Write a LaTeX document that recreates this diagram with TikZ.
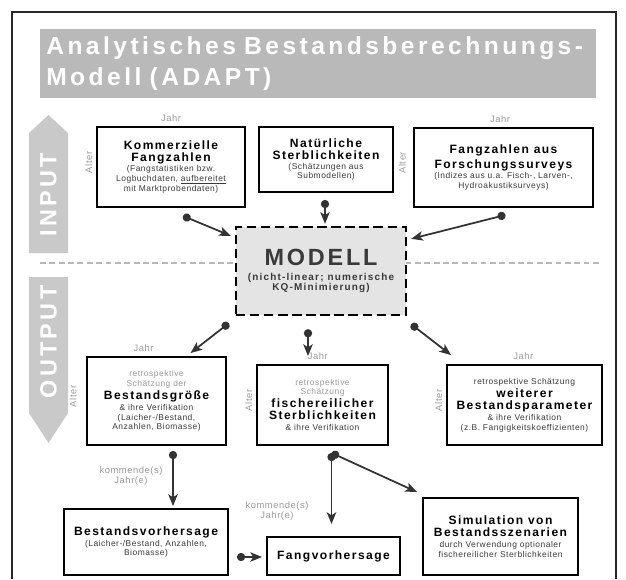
\documentclass[tikz,border=0pt]{standalone}
\usepackage{fontspec}
\setmainfont{Liberation Sans}
\newfontfamily\titlefont[LetterSpace=14]{Liberation Sans}
\newfontfamily\widefont[LetterSpace=12]{Liberation Sans}
\newfontfamily\smallfont[LetterSpace=6]{Liberation Sans}
\usetikzlibrary{positioning,arrows.meta}

\definecolor{titlegray}{HTML}{B9B9B9}
\definecolor{sidegray}{HTML}{C9C9C9}
\definecolor{modellgray}{HTML}{E4E4E4}
\definecolor{textgray}{HTML}{9A9A9A}
\definecolor{darktext}{HTML}{3A3A3A}

\newcommand\hd{\widefont\bfseries\fontsize{10.3}{12}\selectfont\color{black}}
\newcommand\sm{\smallfont\fontsize{7.2}{8.4}\selectfont\color{darktext}}
\newcommand\lt{\color{textgray}}

\begin{document}
\begin{tikzpicture}[x=0.03cm, y=-0.03cm,
    box/.style={draw=black, line width=1.6pt, fill=white, align=center, inner sep=1pt, font=\sm},
    conn/.style={draw=black!80, line width=1.5pt, {Circle[length=7pt]}-{Stealth[length=10pt, width=8pt, inset=2.5pt]}},
    axislabel/.style={text=textgray, font=\smallfont\fontsize{8}{9}\selectfont, inner sep=1pt},
    sidetext/.style={text=white, font=\titlefont\bfseries\fontsize{20}{20}\selectfont, rotate=90}
]
    % page and frame
    \useasboundingbox (0,0) rectangle (626,579);
    \draw[line width=1.2pt, black!85] (12,579) -- (12,12) -- (616,12) -- (616,579);

    % title
    \node[fill=titlegray, minimum width=16.68cm, minimum height=2.07cm, text width=16.3cm, align=left, text=white,
          font=\titlefont\bfseries\fontsize{21}{27}\selectfont] (title) at (318,63.5)
          {Analytisches Bestandsberechnungs-\\Modell (ADAPT)};

    % input / output arrows at the side
    \fill[sidegray] (29,253) -- (29,133) -- (48.5,115) -- (68,133) -- (68,253) -- cycle;
    \fill[sidegray] (29,277) -- (68,277) -- (68,413) -- (48.5,443) -- (29,413) -- cycle;
    \node[sidetext] (input) at (48.5,195) {INPUT};
    \node[sidetext] (output) at (48.5,342) {OUTPUT};

    % separator between input and output
    \draw[textgray!70, line width=1pt, dash pattern=on 5pt off 3pt] (40,263) -- (600,263);

    % input boxes
    \node[box, minimum width=4.44cm, minimum height=2.4cm] (kommerz) at (171,167)
        {\hd Kommerzielle\\[2pt] \hd Fangzahlen\\ (Fangstatistiken bzw.\\ Logbuchdaten, \underline{aufbereitet}\\ mit Marktprobendaten)};
    \node[box, minimum width=4.02cm, minimum height=1.95cm] (natur) at (326,159.5)
        {\hd Natürliche\\[2pt] \hd Sterblichkeiten\\ (Schätzungen aus\\ Submodellen)};
    \node[box, minimum width=5.37cm, minimum height=2.37cm] (forsch) at (503.5,167.5)
        {\hd Fangzahlen aus\\[2pt] \hd Forschungssurveys\\ (Indizes aus u.a. Fisch-, Larven-,\\ Hydroakustiksurveys)};

    % the model
    \node[box, fill=modellgray, dash pattern=on 8pt off 4pt, line width=2pt, minimum width=5.1cm, minimum height=2.64cm] (modell) at (321,271)
        {\widefont\bfseries\fontsize{20}{22}\selectfont MODELL\\[4pt]
         \widefont\bfseries\fontsize{8.5}{10}\selectfont (nicht-linear; numerische\\
         \widefont\bfseries\fontsize{8.5}{10}\selectfont KQ-Minimierung)};

    % output boxes
    \node[box, minimum width=4.17cm, minimum height=2.64cm] (groesse) at (156.5,401)
        {\lt retrospektive\\ \lt Schätzung der\\[1pt] \hd Bestandsgröße\\[1pt] \& ihre Verifikation\\ (Laicher-/Bestand,\\ Anzahlen, Biomasse)};
    \node[box, minimum width=3.93cm, minimum height=2.4cm] (fischerei) at (322.5,405)
        {\lt retrospektive\\ \lt Schätzung\\[1pt] \hd fischereilicher\\[2pt] \hd Sterblichkeiten\\[1pt] \& ihre Verifikation};
    \node[box, minimum width=4.65cm, minimum height=2.4cm] (weitere) at (524.5,405)
        {retrospektive Schätzung\\[1pt] \hd weiterer\\[2pt] \hd Bestandsparameter\\[1pt] \& ihre Verifikation\\ (z.B. Fangigkeitskoeffizienten)};
    \node[box, minimum width=4.92cm, minimum height=1.98cm] (bvorher) at (146,542)
        {\hd Bestandsvorhersage\\[1pt] (Laicher-/Bestand, Anzahlen,\\ Biomasse)};
    \node[box, minimum width=3.99cm, minimum height=1.14cm] (fvorher) at (333.5,556)
        {\hd Fangvorhersage};
    \node[box, minimum width=4.65cm, minimum height=2.31cm] (simul) at (500.5,536.5)
        {\hd Simulation von\\[2pt] \hd Bestandsszenarien\\[1pt] durch Verwendung optionaler\\ fischereilicher Sterblichkeiten};

    % axis labels of the data boxes
    \foreach \b/\dx/\ax in {kommerz/0/2, forsch/-3/5, groesse/-11/7, fischerei/-4/2, weitere/-1/2} {
        \node[axislabel, above=2.5pt of \b, xshift=\dx pt] (\b Jahr) {Jahr};
        \node[axislabel, rotate=90, anchor=south] (\b Alter) at ([xshift=-\ax pt, yshift=4pt]\b.west) {Alter};
    }
    \node[axislabel, align=center] (kommendA) at (131,476) {kommende(s)\\Jahr(e)};
    \node[axislabel, align=center] (kommendB) at (277,511) {kommende(s)\\Jahr(e)};

    % connectors
    \draw[conn] ([shift={(12,8)}]kommerz.south) -- ([shift={(-4,10)}]modell.north west);
    \draw[conn] ([shift={(-1,7)}]natur.south) -- ([shift={(-1,-2)}]natur.south |- modell.north);
    \draw[conn] ([shift={(2,7)}]forsch.south) -- ([shift={(4,13)}]modell.north east);
    \draw[conn] ([shift={(-6,7)}]modell.south west) -- ([shift={(34,-3)}]groesse.north);
    \draw[conn] ([shift={(-13,13)}]modell.south) -- ([shift={(-14.5,-8)}]fischerei.north);
    \draw[conn] ([shift={(4,8)}]modell.south east) -- ([shift={(5,-9)}]weitere.north west);
    \draw[conn] ([shift={(16.5,5)}]groesse.south) -- ([shift={(27,-2)}]bvorher.north);
    \draw[conn] ([shift={(9,7)}]fischerei.south) -- ([shift={(-2,-12)}]fvorher.north);
    \draw[conn] ([shift={(9,7)}]fischerei.south) -- ([shift={(-5,-5)}]simul.north west);
    \draw[conn] ([shift={(8,15)}]bvorher.east) -- ([shift={(-4,1)}]fvorher.west);
\end{tikzpicture}
\end{document}
